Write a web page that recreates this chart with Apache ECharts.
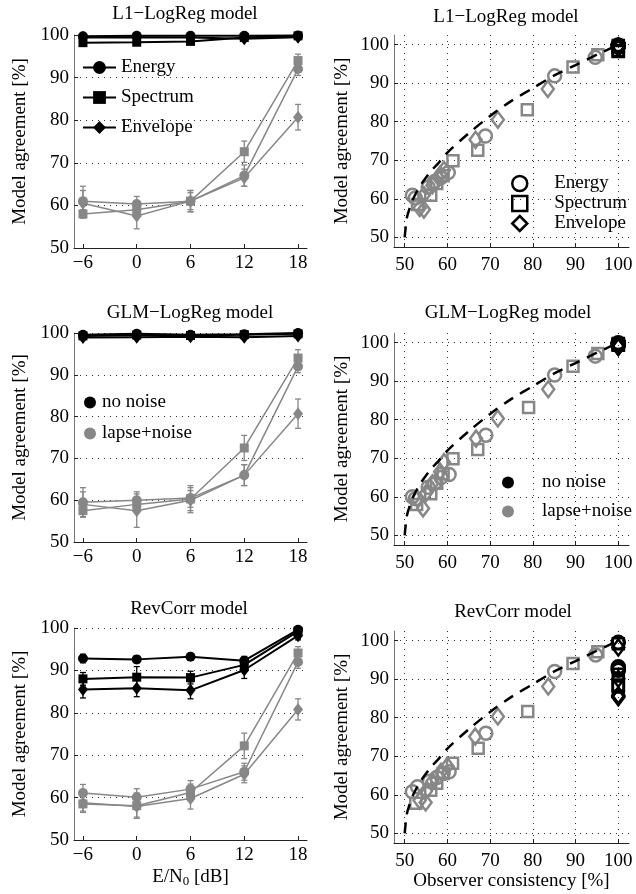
<!DOCTYPE html>
<html><head><meta charset="utf-8">
<script src="https://cdn.jsdelivr.net/npm/echarts@6/dist/echarts.min.js"></script>
<style>html,body{margin:0;padding:0;background:#fff}#c{width:636px;height:894px}</style>
</head><body><div id="c"></div>
<script>
// ---------- data ----------
const snr = [-6, 0, 6, 12, 18];
const snrTicks = [-6, 0, 6, 12, 18];
const pctTicks = [50, 60, 70, 80, 90, 100];

// L1-LogReg (left, top)
const l1NoNoiseEnergy   = [99.7, 99.8, 99.8, 99.8, 99.9];
const l1NoNoiseSpectrum = [98.2, 98.3, 98.5, 99.4, 99.8];
const l1NoNoiseEnvelope = [99.4, 99.5, 99.4, 99.1, 99.5];
const l1NoNoiseErr      = [0.3, 0.3, 0.3, 0.3, 0.3];
const l1LapseEnergy     = [61.0, 60.3, 61.0, 67.0, 92.0];
const l1LapseEnergyErr  = [3.5, 1.8, 2.5, 2.5, 1.5];
const l1LapseSpectrum   = [58.0, 59.0, 61.0, 72.6, 94.0];
const l1LapseSpectrumErr= [1.0, 1.5, 2.0, 2.5, 1.5];
const l1LapseEnvelope   = [60.5, 57.5, 61.0, 66.5, 80.7];
const l1LapseEnvelopeErr= [3.0, 3.0, 2.5, 2.0, 3.0];

// GLM-LogReg (left, middle)
const glmNoNoiseEnergy   = [99.6, 99.8, 99.6, 99.7, 100.0];
const glmNoNoiseSpectrum = [99.3, 99.5, 99.4, 99.6, 99.8];
const glmNoNoiseEnvelope = [98.9, 99.0, 99.1, 99.0, 99.3];
const glmNoNoiseErr      = [0.3, 0.3, 0.3, 0.3, 0.3];
const glmLapseEnergy     = [59.5, 60.0, 60.5, 66.0, 92.0];
const glmLapseEnergyErr  = [3.5, 2.0, 3.0, 2.5, 1.5];
const glmLapseSpectrum   = [57.5, 59.0, 60.3, 72.5, 94.0];
const glmLapseSpectrumErr= [1.5, 1.5, 2.0, 3.0, 2.0];
const glmLapseEnvelope   = [59.0, 57.5, 60.0, 66.0, 80.7];
const glmLapseEnvelopeErr= [3.0, 4.0, 3.0, 2.5, 3.5];

// RevCorr (left, bottom)
const rcNoNoiseEnergy      = [92.8, 92.6, 93.2, 92.3, 99.6];
const rcNoNoiseEnergyErr   = [1.0, 0.8, 0.8, 1.0, 0.5];
const rcNoNoiseSpectrum    = [88.0, 88.4, 88.3, 91.3, 99.2];
const rcNoNoiseSpectrumErr = [1.5, 2.5, 1.5, 1.5, 0.5];
const rcNoNoiseEnvelope    = [85.5, 85.8, 85.3, 90.1, 98.2];
const rcNoNoiseEnvelopeErr = [2.0, 2.0, 2.0, 2.0, 1.0];
const rcLapseEnergy        = [61.1, 60.1, 62.0, 66.1, 92.0];
const rcLapseEnergyErr     = [2.0, 2.0, 2.0, 2.0, 1.5];
const rcLapseSpectrum      = [58.5, 58.1, 61.2, 72.2, 94.1];
const rcLapseSpectrumErr   = [2.0, 3.0, 2.0, 3.0, 1.5];
const rcLapseEnvelope      = [58.8, 57.9, 59.8, 65.5, 80.8];
const rcLapseEnvelopeErr   = [2.0, 2.5, 2.5, 2.0, 2.5];

// scatter (right panels): [observer consistency, model agreement]
const l1ScatterEnergy   = [[51.8,60.9],[52.5,60.2],[55.5,63.0],[57.0,64.5],[58.5,65.5],[60.2,66.8],[68.9,76.3],[85.1,91.9],[94.6,96.7]];
const l1ScatterSpectrum = [[53.0,58.5],[56.1,60.9],[57.5,64.0],[59.0,66.0],[61.3,69.9],[67.1,72.6],[78.7,83.1],[89.4,94.2],[95.2,97.4]];
const l1ScatterEnvelope = [[53.5,57.6],[54.5,57.2],[54.5,61.0],[56.5,63.5],[58.3,66.3],[59.2,67.5],[66.6,75.3],[71.8,80.5],[83.5,88.5]];
const glmScatterEnergy   = [[51.8,60.0],[52.5,59.5],[55.5,62.5],[57.0,63.5],[58.5,65.0],[60.4,65.8],[69.0,76.0],[85.1,91.6],[94.6,96.5]];
const glmScatterSpectrum = [[52.8,58.0],[56.1,60.8],[57.5,63.5],[59.0,66.0],[61.3,69.9],[67.1,72.3],[79.0,83.2],[89.4,93.9],[95.2,97.2]];
const glmScatterEnvelope = [[53.0,59.5],[54.3,57.0],[55.0,61.0],[56.5,63.5],[58.3,66.5],[59.2,69.0],[66.7,75.1],[71.8,80.3],[83.6,87.9]];
const rcScatterEnergy   = [[51.8,60.8],[53.0,62.1],[55.8,63.5],[57.5,64.5],[59.0,65.5],[60.4,66.0],[69.0,76.0],[85.1,92.0],[94.7,96.3]];
const rcScatterSpectrum = [[52.6,57.8],[56.1,61.2],[57.5,63.0],[59.0,65.5],[61.2,68.2],[67.2,72.1],[78.8,81.6],[89.4,94.1],[95.2,97.1]];
const rcScatterEnvelope = [[53.5,58.5],[54.9,58.0],[55.0,61.0],[56.5,63.5],[58.5,66.0],[60.0,67.5],[66.5,75.1],[71.8,80.3],[83.6,88.1]];
const noNoiseConsistency = 100;

// dashed bound curve
const boundX = [50, 50.5, 51, 52, 53, 54, 56, 58, 60, 65, 70, 75, 80, 85, 90, 95, 100];
const boundY = [50, 55, 57, 60, 62.2, 64, 67, 69.4, 72, 77, 81.5, 85.4, 88.7, 92, 94.7, 97.4, 100];

// ---------- styling ----------
const FONT = '"Liberation Serif", "Times New Roman", serif';
const GRAY = '#878787';
const FS = 19;

const grids = [
  {left: 74,  top: 35,  width: 233, height: 213},
  {left: 394, top: 35,  width: 235, height: 212},
  {left: 74,  top: 333, width: 233, height: 209},
  {left: 394, top: 333, width: 235, height: 212},
  {left: 74,  top: 628, width: 233, height: 212},
  {left: 394, top: 631, width: 235, height: 212}
];

const minus = v => (v < 0 ? '\u2212' + Math.abs(v) : String(v));
const dotted = {show: true, lineStyle: {color: '#333', width: 1, type: [1, 5]}};
const labelStyle = {fontFamily: FONT, fontSize: FS, color: '#000'};

const xAxes = [], yAxes = [];
for (let g = 0; g < 6; g++) {
  const left = g % 2 === 0;
  const x = {
    type: 'value', gridIndex: g,
    min: left ? -7 : 47.5, max: left ? 19 : 102.5,
    axisLine: {show: true, onZero: false, lineStyle: {color: '#222', width: 1}},
    axisTick: {show: true, inside: true, length: 4, customValues: left ? snrTicks : pctTicks, lineStyle: {color: '#222'}},
    axisLabel: Object.assign({customValues: left ? snrTicks : pctTicks, margin: left ? 6 : 9, formatter: minus}, labelStyle),
    splitLine: left ? {show: false} : dotted
  };
  if (g === 4) {
    x.name = 'E/N{sub|0} [dB]';
    x.nameLocation = 'middle'; x.nameGap = 26;
    x.nameTextStyle = Object.assign({rich: {sub: {fontFamily: FONT, fontSize: 13, verticalAlign: 'bottom', padding: [9, 0, 0, 0]}}}, labelStyle);
  }
  if (g === 5) {
    x.name = 'Observer consistency [%]';
    x.nameLocation = 'middle'; x.nameGap = 29;
    x.nameTextStyle = labelStyle;
  }
  xAxes.push(x);
  const y = {
    type: 'value', gridIndex: g,
    min: left ? 50 : 47.5, max: left ? 100 : 102.5,
    axisLine: {show: true, onZero: false, lineStyle: {color: '#777', width: 1}},
    axisTick: {show: true, inside: true, length: 4, customValues: pctTicks, lineStyle: {color: '#222'}},
    axisLabel: Object.assign({customValues: pctTicks, margin: 5}, labelStyle),
    splitLine: dotted,
    name: 'Model agreement [%]', nameLocation: 'middle', nameGap: left ? 44 : 42,
    nameTextStyle: labelStyle
  };
  if (left) y.interval = 10;
  yAxes.push(y);
}

function errRender(params, api) {
  const x = api.value(0), lo = api.value(1), hi = api.value(2);
  const p1 = api.coord([x, lo]), p2 = api.coord([x, hi]);
  const w = 3;
  const style = {stroke: api.visual('color'), lineWidth: 1.3};
  return {type: 'group', children: [
    {type: 'line', shape: {x1: p1[0], y1: p1[1], x2: p2[0], y2: p2[1]}, style},
    {type: 'line', shape: {x1: p1[0] - w, y1: p1[1], x2: p1[0] + w, y2: p1[1]}, style},
    {type: 'line', shape: {x1: p2[0] - w, y1: p2[1], x2: p2[0] + w, y2: p2[1]}, style}
  ]};
}

const SYM = {energy: ['circle', 10], spectrum: ['rect', 9], envelope: ['diamond', [10, 13]]};

function lineS(name, g, vals, color, kind, lw) {
  return {type: 'line', name, xAxisIndex: g, yAxisIndex: g,
    data: snr.map((x, i) => [x, vals[i]]),
    symbol: SYM[kind][0], symbolSize: SYM[kind][1], showSymbol: true, clip: false,
    lineStyle: {color, width: lw}, itemStyle: {color},
    z: color === GRAY ? 3 : 4, emphasis: {disabled: true}};
}
function errS(g, vals, errs, color) {
  return {type: 'custom', name: 'err' + g, xAxisIndex: g, yAxisIndex: g,
    data: snr.map((x, i) => [x, vals[i] - errs[i], vals[i] + errs[i]]),
    renderItem: errRender, itemStyle: {color}, encode: {x: 0, y: [1, 2]}, z: 2, clip: false};
}
const OPEN = {energy: ['circle', 13], spectrum: ['rect', 11], envelope: ['diamond', [12, 16]]};
function scatS(name, g, pts, color, kind) {
  return {type: 'scatter', name, xAxisIndex: g, yAxisIndex: g, data: pts,
    symbol: OPEN[kind][0], symbolSize: OPEN[kind][1], clip: false,
    itemStyle: {color: 'rgba(0,0,0,0)', borderColor: color, borderWidth: 2.5, opacity: 1},
    z: color === GRAY ? 3 : 4, emphasis: {disabled: true}};
}
function boundS(g) {
  return {type: 'line', name: 'bound' + g, xAxisIndex: g, yAxisIndex: g,
    data: boundX.map((x, i) => [x, boundY[i]]), smooth: 0.3, showSymbol: false, symbol: 'none',
    lineStyle: {color: '#000', width: 2.5, type: [11, 8]}, z: 6, emphasis: {disabled: true}};
}

const series = [];
const leftPanels = [
  {g: 0, tag: 'l1', nn: [l1NoNoiseEnergy, l1NoNoiseSpectrum, l1NoNoiseEnvelope], nnErr: [l1NoNoiseErr, l1NoNoiseErr, l1NoNoiseErr],
   lp: [l1LapseEnergy, l1LapseSpectrum, l1LapseEnvelope], lpErr: [l1LapseEnergyErr, l1LapseSpectrumErr, l1LapseEnvelopeErr]},
  {g: 2, tag: 'glm', nn: [glmNoNoiseEnergy, glmNoNoiseSpectrum, glmNoNoiseEnvelope], nnErr: [glmNoNoiseErr, glmNoNoiseErr, glmNoNoiseErr],
   lp: [glmLapseEnergy, glmLapseSpectrum, glmLapseEnvelope], lpErr: [glmLapseEnergyErr, glmLapseSpectrumErr, glmLapseEnvelopeErr]},
  {g: 4, tag: 'rc', nn: [rcNoNoiseEnergy, rcNoNoiseSpectrum, rcNoNoiseEnvelope], nnErr: [rcNoNoiseEnergyErr, rcNoNoiseSpectrumErr, rcNoNoiseEnvelopeErr],
   lp: [rcLapseEnergy, rcLapseSpectrum, rcLapseEnvelope], lpErr: [rcLapseEnergyErr, rcLapseSpectrumErr, rcLapseEnvelopeErr]}
];
const kinds = ['energy', 'spectrum', 'envelope'];
const kindNames = ['Energy', 'Spectrum', 'Envelope'];
leftPanels.forEach(p => {
  kinds.forEach((k, i) => {
    series.push(errS(p.g, p.lp[i], p.lpErr[i], GRAY));
    let gname = p.tag + ' lapse ' + k;
    if (p.g === 2 && i === 0) gname = 'lapse+noise';
    series.push(lineS(gname, p.g, p.lp[i], GRAY, k, 1.5));
  });
  kinds.forEach((k, i) => {
    series.push(errS(p.g, p.nn[i], p.nnErr[i], '#000'));
    let bname = p.tag + ' nn ' + k;
    if (p.g === 0) bname = kindNames[i];
    if (p.g === 2 && i === 0) bname = 'no noise';
    series.push(lineS(bname, p.g, p.nn[i], '#000', k, 2));
  });
});
const rightPanels = [
  {g: 1, tag: 'l1', sc: [l1ScatterEnergy, l1ScatterSpectrum, l1ScatterEnvelope], nn: leftPanels[0].nn},
  {g: 3, tag: 'glm', sc: [glmScatterEnergy, glmScatterSpectrum, glmScatterEnvelope], nn: leftPanels[1].nn},
  {g: 5, tag: 'rc', sc: [rcScatterEnergy, rcScatterSpectrum, rcScatterEnvelope], nn: leftPanels[2].nn}
];
rightPanels.forEach(p => {
  kinds.forEach((k, i) => {
    series.push(scatS(p.tag + ' sc ' + k, p.g, p.sc[i], GRAY, k));
  });
  kinds.forEach((k, i) => {
    series.push(scatS(p.tag + ' scnn ' + k, p.g, p.nn[i].map(v => [noNoiseConsistency, v]), '#000', k));
  });
  series.push(boundS(p.g));
});

const titleDefs = [
  {text: 'L1\u2212LogReg model', x: 185, y: 5},
  {text: 'L1\u2212LogReg model', x: 506, y: 8},
  {text: 'GLM\u2212LogReg model', x: 190, y: 304},
  {text: 'GLM\u2212LogReg model', x: 508, y: 304},
  {text: 'RevCorr model', x: 189, y: 600},
  {text: 'RevCorr model', x: 513, y: 603}
];
const titles = titleDefs.map(t => ({text: t.text, left: t.x, top: t.y, textAlign: 'center', padding: 0,
  textStyle: {fontFamily: FONT, fontSize: FS, fontWeight: 'normal', color: '#000'}}));

const legText = {fontFamily: FONT, fontSize: FS, color: '#000'};
const spacedText = w => Object.assign({rich: {s: {width: w}}}, legText);
const openIcon = (name, icon) => ({name, icon, itemStyle: {color: 'rgba(0,0,0,0)', borderColor: '#000', borderWidth: 2.5}});
const legends = [
  {orient: 'vertical', left: 82, top: 58, padding: 0, itemWidth: 33, itemHeight: 16, itemGap: 11, selectedMode: false,
   data: kindNames, textStyle: legText},
  {orient: 'vertical', left: 511, top: 174, padding: 0, itemWidth: 15, itemHeight: 15, itemGap: 1, selectedMode: false,
   formatter: '{s|}{name}',
   data: [openIcon('Energy', 'circle'), openIcon('Spectrum', 'rect'), openIcon('Envelope', 'diamond')], textStyle: spacedText(22)},
  {orient: 'vertical', left: 84, top: 393, padding: 0, itemWidth: 14, itemHeight: 12, itemGap: 12, selectedMode: false,
   data: [{name: 'no noise', icon: 'circle', itemStyle: {color: '#000', borderWidth: 0}},
          {name: 'lapse+noise', icon: 'circle', itemStyle: {color: GRAY, borderWidth: 0}}], textStyle: legText},
  {orient: 'vertical', left: 502, top: 473, padding: 0, itemWidth: 14, itemHeight: 12, itemGap: 10, selectedMode: false,
   formatter: '{s|}{name}',
   data: [{name: 'no noise', icon: 'circle', itemStyle: {color: '#000', borderWidth: 0}},
          {name: 'lapse+noise', icon: 'circle', itemStyle: {color: GRAY, borderWidth: 0}}], textStyle: spacedText(22)}
];

const chart = echarts.init(document.getElementById('c'), null, {renderer: 'canvas'});
chart.setOption({
  animation: false,
  backgroundColor: '#fff',
  title: titles,
  legend: legends,
  grid: grids,
  xAxis: xAxes,
  yAxis: yAxes,
  series
});
</script>
</body></html>
